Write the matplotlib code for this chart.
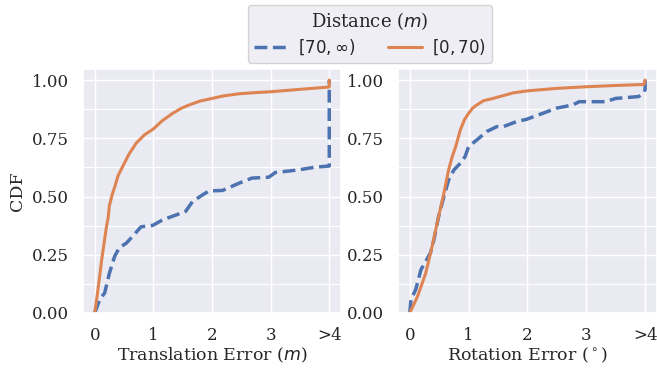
import matplotlib
matplotlib.use('Agg')
import matplotlib.pyplot as plt
import seaborn as sns
from matplotlib.ticker import MultipleLocator

sns.set_theme(style='darkgrid')
plt.rcParams['font.family'] = 'serif'
plt.rcParams['font.serif'] = ['DejaVu Serif']

# translation error CDF, [0,70) and [70,inf)
trans_near_x = [0, 0.05, 0.12, 0.2, 0.23, 0.25, 0.3, 0.34, 0.4, 0.48, 0.58, 0.71, 0.85, 1.0, 1.15,
                1.33, 1.47, 1.61, 1.8, 2.0, 2.2, 2.46, 2.75, 3.02, 3.5, 4.0, 4.0]
trans_near_y = [0, 0.09, 0.23, 0.37, 0.41, 0.46, 0.51, 0.54, 0.59, 0.63, 0.68, 0.73, 0.765, 0.79, 0.825,
                0.857, 0.878, 0.893, 0.91, 0.921, 0.932, 0.941, 0.946, 0.95, 0.96, 0.97, 1.0]
trans_far_x = [0, 0.085, 0.17, 0.25, 0.34, 0.42, 0.54, 0.65, 0.79, 0.99, 1.16, 1.38, 1.55, 1.67, 1.84,
               1.95, 2.18, 2.46, 2.68, 2.97, 3.08, 3.47, 3.76, 4.0, 4.0]
trans_far_y = [0, 0.057, 0.086, 0.17, 0.243, 0.28, 0.30, 0.33, 0.37, 0.376, 0.40, 0.42, 0.436, 0.479, 0.507,
               0.524, 0.526, 0.557, 0.579, 0.583, 0.603, 0.614, 0.626, 0.631, 1.0]

# rotation error CDF
rot_near_x = [0, 0.13, 0.27, 0.38, 0.49, 0.58, 0.66, 0.72, 0.78, 0.86, 0.93, 1.0, 1.07, 1.14, 1.25,
              1.4, 1.53, 1.76, 1.98, 2.49, 2.99, 3.44, 3.98, 4.0]
rot_near_y = [0, 0.07, 0.17, 0.286, 0.414, 0.514, 0.614, 0.67, 0.714, 0.786, 0.83, 0.857, 0.88, 0.893,
              0.911, 0.92, 0.929, 0.945, 0.953, 0.964, 0.971, 0.976, 0.981, 1.0]
rot_far_x = [0, 0.02, 0.1, 0.19, 0.27, 0.35, 0.41, 0.49, 0.58, 0.66, 0.75, 0.86, 0.94, 1.0, 1.14, 1.31,
             1.48, 1.59, 1.81, 1.98, 2.26, 2.49, 2.77, 2.88, 3.33, 3.5, 3.89, 3.98, 4.0, 4.0]
rot_far_y = [0, 0.057, 0.1, 0.186, 0.221, 0.257, 0.314, 0.414, 0.50, 0.571, 0.614, 0.643, 0.671, 0.714,
             0.743, 0.779, 0.80, 0.80, 0.821, 0.831, 0.857, 0.879, 0.893, 0.907, 0.907, 0.921, 0.929,
             0.946, 0.96, 1.0]

xticks = [0, 1, 2, 3, 4]
xticklabels = ['0', '1', '2', '3', '>4']

blue = sns.color_palette()[0]
orange = sns.color_palette()[1]

fig = plt.figure(figsize=(6.57, 3.69), dpi=100)
ax1 = fig.add_axes([0.1263, 0.1518, 0.3927, 0.661])
ax2 = fig.add_axes([0.6058, 0.1518, 0.394, 0.661])

panels = [
    (ax1, trans_far_x, trans_far_y, trans_near_x, trans_near_y, 'Translation Error ($m$)'),
    (ax2, rot_far_x, rot_far_y, rot_near_x, rot_near_y, r'Rotation Error ($^\circ$)'),
]
for ax, fx, fy, nx, ny, label in panels:
    ax.plot(fx, fy, color=blue, ls='--', lw=2.5, label=r'$[70, \infty)$')
    ax.plot(nx, ny, color=orange, lw=2.2, label=r'$[0, 70)$')
    ax.set_xlim(-0.2, 4.2)
    ax.set_ylim(0, 1.047)
    ax.set_xticks(xticks)
    ax.set_xticklabels(xticklabels)
    ax.set_yticks([0, 0.25, 0.5, 0.75, 1.0])
    ax.yaxis.set_minor_locator(MultipleLocator(0.125))
    ax.grid(which='minor', axis='y', color='white', lw=0.8)
    ax.tick_params(labelsize=12, pad=4)
    ax.set_xlabel(label, fontsize=12.5, labelpad=1)

ax1.set_ylabel('CDF', fontsize=12.5)

handles, labels = ax1.get_legend_handles_labels()
fig.legend(handles, labels, title='Distance ($m$)', ncol=2, loc='upper center',
           bbox_to_anchor=(0.563, 1.01), fontsize=12, title_fontsize=13,
           handlelength=2.0, columnspacing=2.0, borderpad=0.35, labelspacing=0.3,
           handletextpad=0.65, frameon=True)

fig.savefig('out.png', dpi=100)
